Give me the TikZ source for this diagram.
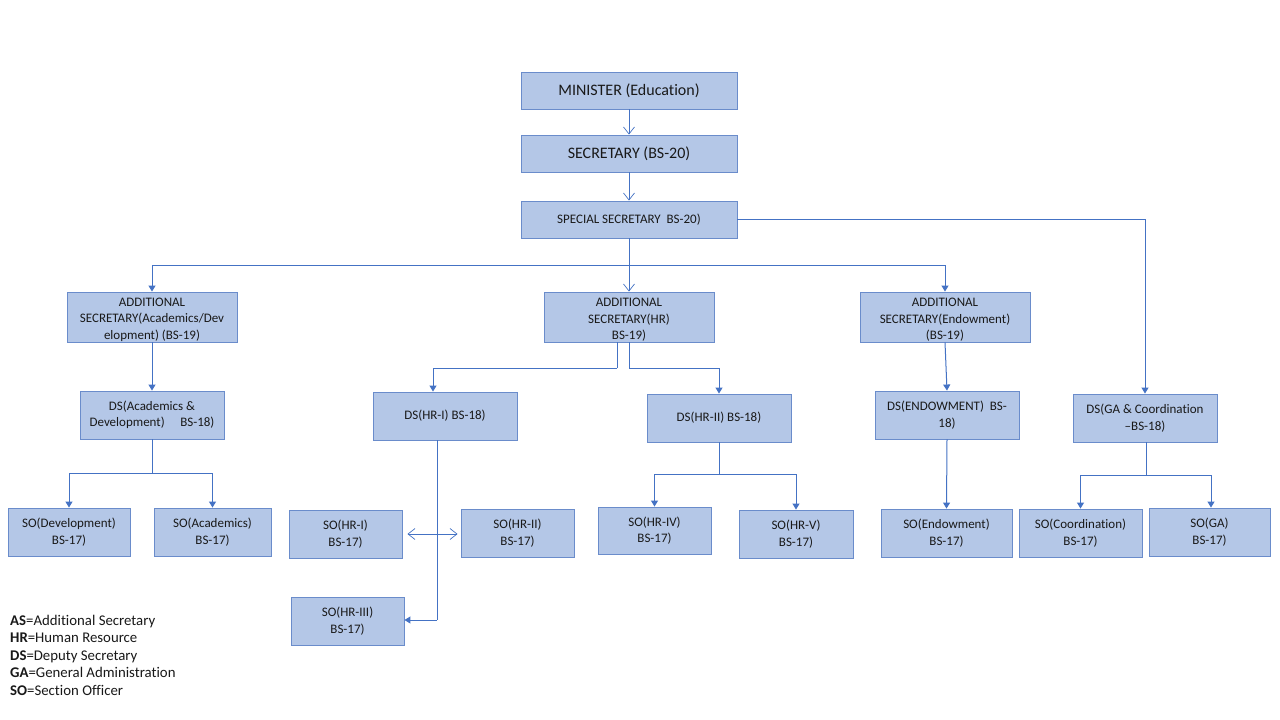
\documentclass[tikz,border=0pt]{standalone}
\usepackage{fontspec}
\setmainfont{Carlito}[Ligatures={NoCommon}]
\usetikzlibrary{arrows.meta}
\definecolor{boxfill}{HTML}{B4C7E7}
\definecolor{boxline}{HTML}{6A8CCB}
\definecolor{linkc}{HTML}{4472C4}
\begin{document}
\begin{tikzpicture}[x=1pt,y=-1pt,
  box/.style={draw=boxline, fill=boxfill, line width=0.9pt, align=center, inner sep=0pt,
    font=\fontsize{13}{16.5}\selectfont, text=black!90},
  bigbox/.style={box, font=\fontsize{16}{19}\selectfont},
  link/.style={draw=linkc, line width=1pt},
  tri/.style={link, -{Triangle[length=6pt,width=7pt]}},
  opn/.style={link, -{Straight Barb[length=7pt,width=11pt,line width=0.7pt]}}]
\useasboundingbox (0,0) rectangle (1280,720);
\fill[white] (0,0) rectangle (1280,720);

% top
\node[bigbox, minimum width=216pt, minimum height=37pt] (min) at (629,90.5) {MINISTER (Education)};
\node[bigbox, minimum width=216pt, minimum height=37pt] (sec) at (629,153.5) {SECRETARY (BS-20)};
\node[box, minimum width=216pt, minimum height=37pt] (spec) at (629,219.5) {SPECIAL SECRETARY\ \ BS-20)};

% additional secretaries
\node[box, minimum width=170pt, minimum height=50pt] (asA) at (152,317) {\rule{0pt}{14pt}ADDITIONAL\\SECRETARY(Academics/Dev\\elopment) (BS-19)};
\node[box, minimum width=170pt, minimum height=50pt] (asH) at (629,317) {\rule{0pt}{14pt}ADDITIONAL\\SECRETARY(HR)\\BS-19)};
\node[box, minimum width=170pt, minimum height=50pt] (asE) at (945,317) {\rule{0pt}{14pt}ADDITIONAL\\SECRETARY(Endowment)\\(BS-19)};

% deputy secretaries
\node[box, minimum width=144pt, minimum height=48pt] (dsA) at (152,415) {DS(Academics \&\\Development)\hspace{1.2em}BS-18)};
\node[box, minimum width=144pt, minimum height=48pt] (dsH1) at (445,416) {DS(HR-I) BS-18)};
\node[box, minimum width=144pt, minimum height=48pt] (dsH2) at (719,418) {DS(HR-II) BS-18)};
\node[box, minimum width=144pt, minimum height=48pt] (dsE) at (947,415) {DS(ENDOWMENT)\ \ BS-\\18)};
\node[box, minimum width=144pt, minimum height=48pt] (dsG) at (1145,418) {DS(GA \& Coordination\\--BS-18)};

% section officers
\node[box, minimum width=122pt, minimum height=48pt] (soDev) at (69,532) {SO(Development)\\BS-17)};
\node[box, minimum width=117pt, minimum height=48pt] (soAc) at (212.5,532) {SO(Academics)\\BS-17)};
\node[box, minimum width=113pt, minimum height=48pt] (soH1) at (345.5,534) {SO(HR-I)\\BS-17)};
\node[box, minimum width=113pt, minimum height=48pt] (soH2) at (517.5,533) {SO(HR-II)\\BS-17)};
\node[box, minimum width=113pt, minimum height=48pt] (soH3) at (347.5,621) {SO(HR-III)\\BS-17)};
\node[box, minimum width=113pt, minimum height=47pt] (soH4) at (654.5,530.5) {SO(HR-IV)\\BS-17)};
\node[box, minimum width=114pt, minimum height=48pt] (soH5) at (796,534) {SO(HR-V)\\BS-17)};
\node[box, minimum width=131pt, minimum height=48pt] (soE) at (946.5,533) {SO(Endowment)\\BS-17)};
\node[box, minimum width=123pt, minimum height=48pt] (soC) at (1080.5,533) {SO(Coordination)\\BS-17)};
\node[box, minimum width=121pt, minimum height=48pt] (soG) at (1209.5,532) {SO(GA)\\BS-17)};

% legend
\node[anchor=north west, align=left, inner sep=0pt, font=\fontsize{14.8}{17.5}\selectfont, text=black!90] (legend) at (10,615)
 {\textbf{AS}=Additional Secretary\\
  \textbf{HR}=Human Resource\\
  \textbf{DS}=Deputy Secretary\\
  \textbf{GA}=General Administration\\
  \textbf{SO}=Section Officer};

% junction coordinates
\coordinate (j1) at (629,265);
\coordinate (jH1) at (617,368);
\coordinate (jH2) at (629,368);
\coordinate (jA) at (152,473);
\coordinate (jHR) at (437,534);
\coordinate (jH3) at (437,620);
\coordinate (jB) at (719,474);
\coordinate (jG) at (1146,475);

% connectors top
\draw[opn] (min.south) -- (sec.north);
\draw[opn] (sec.south) -- (spec.north);
\draw[link] (spec.south) -- (j1);
\draw[tri] (j1) -| (asA.north);
\draw[opn] (j1) -- (asH.north);
\draw[tri] (j1) -| (asE.north);
\draw[tri] (spec.east) -| (dsG.north);

% AS to DS
\draw[tri] (asA.south) -- (dsA.north);
\draw[link] ([xshift=-12pt]asH.south) -- (jH1);
\draw[tri] (jH1) -| ([xshift=-12pt]dsH1.north);
\draw[link] (asH.south) -- (jH2);
\draw[tri] (jH2) -| (dsH2.north);
\draw[tri] (asE.south) -- (dsE.north);

% DS to SO
\draw[link] (dsA.south) -- (jA);
\draw[tri] (jA) -| (soDev.north);
\draw[tri] (jA) -| (soAc.north);

\draw[link] ([xshift=-8pt]dsH1.south) -- (jH3);
\draw[tri] (jH3) -- (soH3.east |- jH3);
\draw[opn, shorten >=5pt] (jHR) -- (soH1.east |- jHR);
\draw[opn, shorten >=3pt] (jHR) -- (soH2.west |- jHR);

\draw[link] (dsH2.south) -- (jB);
\draw[tri] (jB) -| (soH4.north);
\draw[tri] (jB) -| (soH5.north);

\draw[tri] (dsE.south) -- (soE.north);

\draw[link] ([xshift=1pt]dsG.south) -- (jG);
\draw[tri] (jG) -| (soC.north);
\draw[tri] (jG) -| ([xshift=1.5pt]soG.north);
\end{tikzpicture}
\end{document}
